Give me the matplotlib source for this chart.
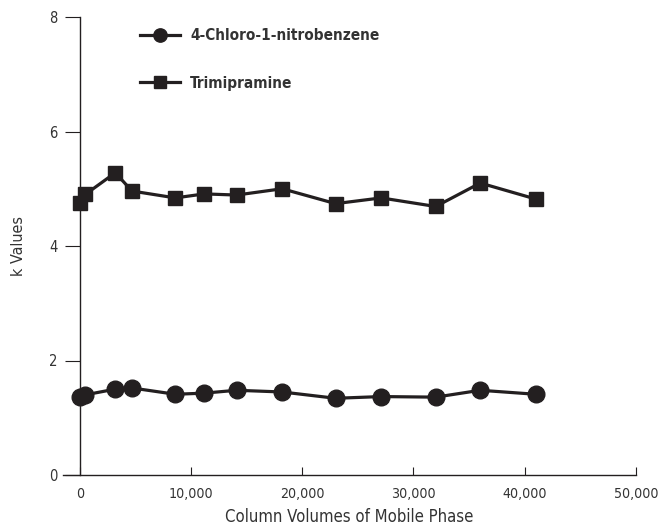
import matplotlib
matplotlib.use("Agg")
import matplotlib.pyplot as plt
from matplotlib import font_manager

# condensed face if one is installed
cond = [f for f in font_manager.fontManager.ttflist
        if ("Narrow" in f.name or "Condensed" in f.name or f.stretch in ("condensed", 'semi-condensed', 587, 500))]
fam = ['DejaVu Sans']
stretch = 'normal'
if any("DejaVu Sans" == f.name for f in cond):
    stretch = 'condensed'
elif cond:
    fam = [cond[0].name, 'DejaVu Sans']
plt.rcParams['font.family'] = fam
plt.rcParams['font.stretch'] = stretch

volumes = [0, 500, 3200, 4700, 8600, 11200, 14100, 18200, 23000, 27100, 32000, 36000, 41000]
chloro = [1.36, 1.40, 1.50, 1.52, 1.41, 1.43, 1.48, 1.45, 1.34, 1.37, 1.36, 1.48, 1.41]
trimip = [4.75, 4.90, 5.28, 4.96, 4.84, 4.91, 4.89, 5.00, 4.74, 4.84, 4.69, 5.10, 4.82]
xticks = [0, 10000, 20000, 30000, 40000, 50000]
xticklabels = ["0", "10,000", "20,000", "30,000", "40,000", "50,000"]
yticks = [0, 2, 4, 6, 8]

ink = "#231f20"
txt = "#333333"

fig = plt.figure(figsize=(6.58, 5.29), dpi=100)
ax = fig.add_axes([63/658, 54/529, 573/658, 458/529])

ax.plot(volumes, chloro, "-o", color=ink, lw=2.3, ms=12,
        label="4-Chloro-1-nitrobenzene")
ax.plot(volumes, trimip, "-s", color=ink, lw=2.3, ms=10.5,
        label="Trimipramine")

ax.set_xlim(-1500, 50000)
ax.set_ylim(0, 8)
ax.spines['top'].set_visible(False)
ax.spines['right'].set_visible(False)
ax.spines['left'].set_position(('data', 0))
for s in ['left', 'bottom']:
    ax.spines[s].set_color(ink)
    ax.spines[s].set_linewidth(1.0)

ax.set_xticks(xticks)
ax.set_xticklabels(xticklabels)
ax.set_yticks(yticks)
ax.tick_params(axis='x', direction='in', length=6, color=ink, labelsize=10.2,
               labelcolor=txt, pad=9)
ax.tick_params(axis='y', direction='out', length=11, color=ink, labelsize=10.5,
               labelcolor=txt, pad=5)

ax.set_xlabel("Column Volumes of Mobile Phase", fontsize=12, color=txt, labelpad=5)
ax.set_ylabel("k Values", fontsize=11.5, color=txt)
ax.yaxis.set_label_coords(-0.065, 0.5)

leg = ax.legend(loc='upper left', bbox_to_anchor=(0.11, 1.005), frameon=False,
                handlelength=2.6, labelspacing=2.1, handletextpad=0.7,
                markerscale=0.8, prop={'weight': 'bold', 'size': 11})
for t in leg.get_texts():
    t.set_color(txt)

fig.savefig("out.png", dpi=100)
